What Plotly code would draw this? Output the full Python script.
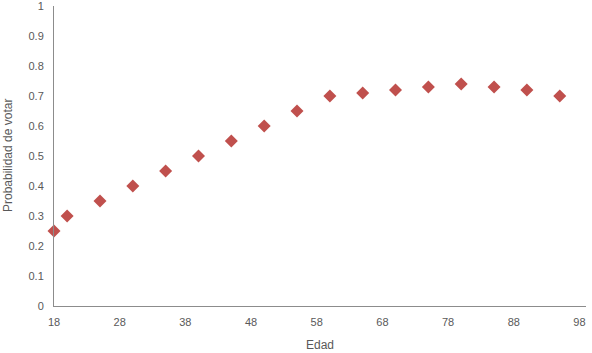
import plotly.graph_objects as go

edad = [18, 20, 25, 30, 35, 40, 45, 50, 55, 60, 65, 70, 75, 80, 85, 90, 95]
prob = [0.25, 0.30, 0.35, 0.40, 0.45, 0.50, 0.55, 0.60, 0.65, 0.70, 0.71, 0.72, 0.73, 0.74, 0.73, 0.72, 0.70]
x_ticks = [18, 28, 38, 48, 58, 68, 78, 88, 98]
y_ticks = [0, 0.1, 0.2, 0.3, 0.4, 0.5, 0.6, 0.7, 0.8, 0.9, 1]
y_labels = ["0", "0.1", "0.2", "0.3", "0.4", "0.5", "0.6", "0.7", "0.8", "0.9", "1"]

fig = go.Figure(go.Scatter(
    x=edad, y=prob, mode="markers",
    marker=dict(symbol="diamond", size=10, color="#C0504D"),
    cliponaxis=False,
))

font = dict(family="Liberation Sans, Arial, sans-serif", size=11, color="#595959")
fig.update_layout(
    width=592, height=353,
    margin=dict(l=54, r=6, t=6, b=47, autoexpand=False),
    paper_bgcolor="white", plot_bgcolor="white",
    showlegend=False,
    font=font,
    xaxis=dict(
        range=[18, 99], tickvals=x_ticks, ticktext=[str(v) for v in x_ticks],
        showgrid=False, zeroline=False, showline=True, linecolor="#8c8c8c", linewidth=1,
        ticks="", tickfont=dict(size=11, color="#595959"), automargin=False,
        ticklabelstandoff=6, ticklabeloverflow="allow",
    ),
    yaxis=dict(
        range=[0, 1], tickvals=y_ticks, ticktext=y_labels,
        showgrid=False, zeroline=False, showline=True, linecolor="#8c8c8c", linewidth=1,
        ticks="", tickfont=dict(size=11, color="#595959"), automargin=False,
        ticklabelstandoff=7, ticklabeloverflow="allow",
    ),
    annotations=[
        dict(text="Edad", x=0.5, y=0, yshift=-39, xref="paper", yref="paper",
             xanchor="center", yanchor="middle",
             showarrow=False, font=dict(size=12, color="#595959")),
        dict(text="Probabilidad de votar", x=0, y=0.5, xref="paper", yref="paper",
             xanchor="center", yanchor="middle",
             xshift=-46, textangle=-90, showarrow=False, font=dict(size=12, color="#595959")),
    ],
)
fig.write_html("out.html", config={"displayModeBar": False},
               post_script="document.body.style.margin='0';document.body.style.overflow='hidden';")
